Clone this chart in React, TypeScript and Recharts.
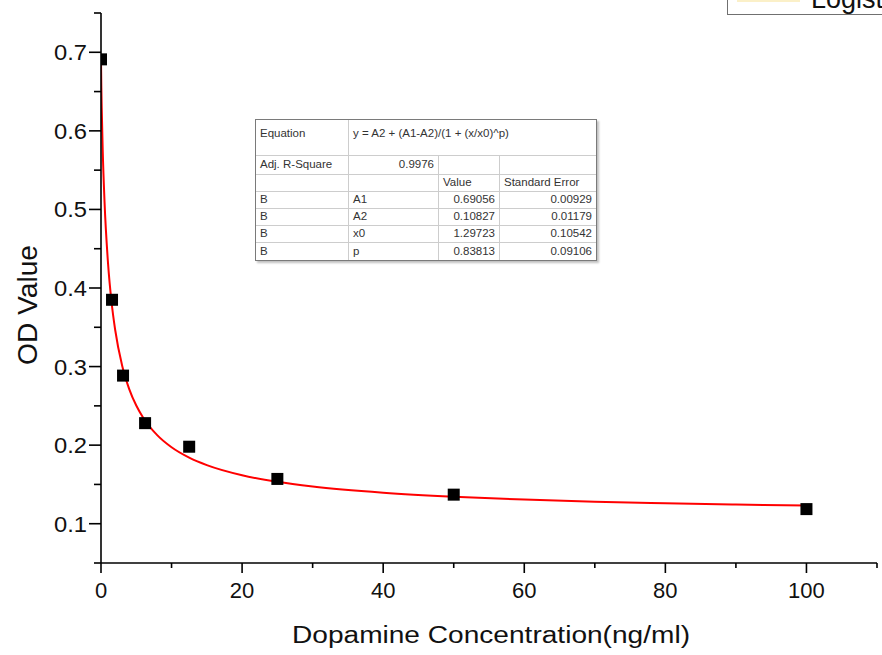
import React from 'react';
import { ComposedChart, Line, Scatter, XAxis, YAxis } from 'recharts';

// measured points
const concentrations = [0, 1.5625, 3.125, 6.25, 12.5, 25, 50, 100];
const odValues = [0.691, 0.385, 0.2885, 0.228, 0.198, 0.157, 0.137, 0.1186];

// fitted curve
const curveX = [0, 0.05, 0.1, 0.25, 0.5, 1, 1.5, 2, 3, 4, 5, 6, 8, 10, 12.5, 15, 20, 25, 30, 40, 50, 60, 70, 80, 90, 100];
const curveY = [0.6906, 0.6549, 0.6297, 0.5735, 0.5099, 0.431, 0.3817, 0.3472, 0.3011, 0.2714, 0.2504, 0.2346, 0.2124, 0.1973, 0.1841, 0.1746, 0.1617, 0.1533, 0.1473, 0.1394, 0.1343, 0.1308, 0.1281, 0.1261, 0.1245, 0.1231];

const xTicks = [0, 10, 20, 30, 40, 50, 60, 70, 80, 90, 100, 110];
const xMajor = [0, 20, 40, 60, 80, 100];
const yTicks = [0.05, 0.1, 0.15, 0.2, 0.25, 0.3, 0.35, 0.4, 0.45, 0.5, 0.55, 0.6, 0.65, 0.7, 0.75];
const yMajor = [0.1, 0.2, 0.3, 0.4, 0.5, 0.6, 0.7];

// fit result table
const tableParams = ['A1', 'A2', 'x0', 'p'];
const tableValues = ['0.69056', '0.10827', '1.29723', '0.83813'];
const tableErrors = ['0.00929', '0.01179', '0.10542', '0.09106'];
const equationText = 'y = A2 + (A1-A2)/(1 + (x/x0)^p)';
const adjRSquare = '0.9976';
const legendLabel = 'Logistic';

const pointData = concentrations.map((x, i) => ({ x, y: odValues[i] }));
const curveData = curveX.map((x, i) => ({ x, y: curveY[i] }));

const FONT = '"Liberation Sans", Arial, sans-serif';

const isIn = (arr: number[], v: number) => arr.some((a) => Math.abs(a - v) < 1e-9);

const XTick = (props: any) => {
  const { x, y, payload } = props;
  const v = payload.value;
  const major = isIn(xMajor, v);
  return (
    <g>
      <line x1={x} y1={y} x2={x} y2={y + (major ? 10 : 5)} stroke="#000" strokeWidth={1.6} />
      {major && (
        <text x={x} y={y + 35} textAnchor="middle" fontSize={22} fontFamily={FONT} fill="#111">
          {v}
        </text>
      )}
    </g>
  );
};

const YTick = (props: any) => {
  const { x, y, payload } = props;
  const v = payload.value;
  const major = isIn(yMajor, v);
  return (
    <g>
      <line x1={x} y1={y} x2={x - (major ? 12 : 7)} y2={y} stroke="#000" strokeWidth={1.6} />
      {major && (
        <text x={x - 14} y={y + 8} textAnchor="end" fontSize={22} fontFamily={FONT} fill="#111" textLength={33} lengthAdjust="spacingAndGlyphs">
          {v.toFixed(1)}
        </text>
      )}
    </g>
  );
};

const Square = (props: any) => {
  const { cx, cy } = props;
  if (cx == null || cy == null) return null;
  return <rect x={cx - 6} y={cy - 6} width={12} height={12} fill="#000" />;
};

const XLabel = (props: any) => {
  const { viewBox } = props;
  const cx = viewBox.x + viewBox.width / 2 + 2;
  return (
    <text x={cx} y={viewBox.y + 80} textAnchor="middle" fontSize={23} fontFamily={FONT} fill="#111" textLength={398} lengthAdjust="spacingAndGlyphs">
      Dopamine Concentration(ng/ml)
    </text>
  );
};

const YLabel = (props: any) => {
  const { viewBox } = props;
  const cy = viewBox.y + viewBox.height / 2 + 17;
  const cx = 37;
  return (
    <text x={cx} y={cy} transform={`rotate(-90 ${cx} ${cy})`} textAnchor="middle" fontSize={27} fontFamily={FONT} fill="#111" textLength={120} lengthAdjust="spacingAndGlyphs">
      OD Value
    </text>
  );
};

// table grid (relative to table box)
const colEdges = [0, 93, 183, 244, 340];
const rowEdges = [0, 36, 55, 72, 89, 106, 123, 140];

type Cell = { r: number; c: number; span?: number; text: string; align?: 'left' | 'right'; top?: boolean };

const tableCells: Cell[] = [
  { r: 0, c: 0, text: 'Equation', top: true },
  { r: 0, c: 1, span: 3, text: equationText, top: true },
  { r: 1, c: 0, text: 'Adj. R-Square' },
  { r: 1, c: 1, text: adjRSquare, align: 'right' },
  { r: 1, c: 2, text: '' },
  { r: 1, c: 3, text: '' },
  { r: 2, c: 0, text: '' },
  { r: 2, c: 1, text: '' },
  { r: 2, c: 2, text: 'Value' },
  { r: 2, c: 3, text: 'Standard Error' },
  ...tableParams.flatMap((p, i) => [
    { r: 3 + i, c: 0, text: 'B' },
    { r: 3 + i, c: 1, text: p },
    { r: 3 + i, c: 2, text: tableValues[i], align: 'right' as const },
    { r: 3 + i, c: 3, text: tableErrors[i], align: 'right' as const },
  ]),
];

const FitTable = () => (
  <div
    style={{
      position: 'absolute',
      left: 255,
      top: 119,
      width: 340,
      height: 140,
      background: '#fff',
      border: '1px solid #7a7a7a',
      boxShadow: '2px 2px 2px rgba(0,0,0,0.25)',
      fontFamily: FONT,
      fontSize: 11.5,
      color: '#333',
    }}
  >
    {tableCells.map((cell, k) => {
      const span = cell.span || 1;
      const left = colEdges[cell.c];
      const right = colEdges[cell.c + span];
      const top = rowEdges[cell.r];
      const bottom = rowEdges[cell.r + 1];
      const lastCol = cell.c + span === colEdges.length - 1;
      const lastRow = cell.r + 1 === rowEdges.length - 1;
      return (
        <div
          key={k}
          style={{
            position: 'absolute',
            left,
            top,
            width: right - left,
            height: bottom - top,
            boxSizing: 'border-box',
            borderRight: lastCol ? 'none' : '1px solid #cdcdcd',
            borderBottom: lastRow ? 'none' : '1px solid #cdcdcd',
            display: 'flex',
            alignItems: cell.top ? 'flex-start' : 'center',
            justifyContent: cell.align === 'right' ? 'flex-end' : 'flex-start',
            padding: cell.top ? '7px 4px 0 4px' : '0 4px 1px 4px',
            whiteSpace: 'nowrap',
            lineHeight: '13px',
          }}
        >
          {cell.text}
        </div>
      );
    })}
  </div>
);

const LegendBox = () => (
  <svg style={{ position: 'absolute', left: 727, top: 0 }} width={155} height={18}>
    <rect x={0.5} y={-30} width={200} height={44.5} fill="#fff" stroke="#707070" strokeWidth={1} />
    <line x1={10} y1={1} x2={73} y2={1} stroke="#fbf0c8" strokeWidth={2} />
    <text x={84} y={8} fontSize={27} fontFamily={FONT} fill="#111">{legendLabel}</text>
  </svg>
);

export default function App() {
  return (
    <div style={{ position: 'absolute', left: 0, top: 0, width: 882, height: 655, overflow: 'hidden', background: '#fff' }}>
      <ComposedChart width={882} height={655} margin={{ top: 13, right: 5, left: 41, bottom: 32 }}>
        <XAxis
          type="number"
          dataKey="x"
          domain={[0, 110]}
          ticks={xTicks}
          interval={0}
          allowDataOverflow
          axisLine={{ stroke: '#000', strokeWidth: 1.6 }}
          tickLine={false}
          tickSize={0}
          tickMargin={0}
          tick={<XTick />}
          height={60}
          label={<XLabel />}
        />
        <YAxis
          type="number"
          dataKey="y"
          domain={[0.05, 0.75]}
          ticks={yTicks}
          interval={0}
          allowDataOverflow
          axisLine={{ stroke: '#000', strokeWidth: 1.6 }}
          tickLine={false}
          tickSize={0}
          tickMargin={0}
          tick={<YTick />}
          width={60}
          label={<YLabel />}
        />
        <Line
          data={curveData}
          dataKey="y"
          type="monotone"
          stroke="#ff0000"
          strokeWidth={2}
          dot={false}
          activeDot={false}
          isAnimationActive={false}
        />
        <Scatter data={pointData} dataKey="y" fill="#000" shape={<Square />} isAnimationActive={false} />
      </ComposedChart>
      <FitTable />
      <LegendBox />
    </div>
  );
}
